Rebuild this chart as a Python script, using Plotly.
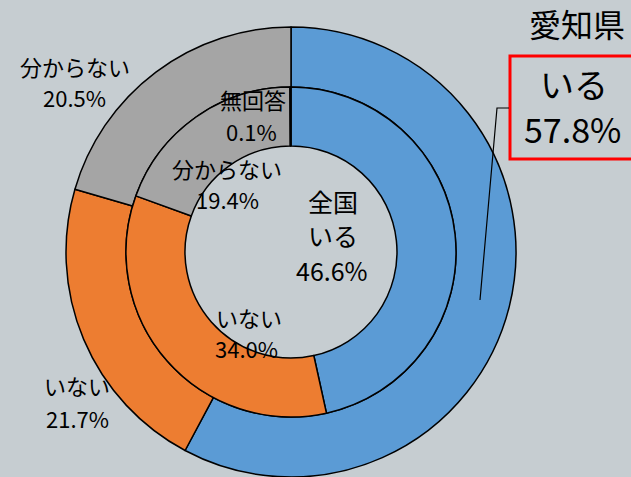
import plotly.graph_objects as go

# 愛知県 (outer ring) and 全国 (inner ring)
aichi_labels = ["いる", "いない", "分からない"]
aichi_values = [57.8, 21.7, 20.5]
zenkoku_labels = ["いる", "いない", "分からない", "無回答"]
zenkoku_values = [46.6, 34.0, 19.4, 0.1]

colors = {"いる": "#5B9BD5", "いない": "#ED7D31", "分からない": "#A5A5A5", "無回答": "#A5A5A5"}

W, H = 631, 477
BG = "#C6CDD1"
FONT = "Noto Sans CJK JP"

# ring geometry in pixels
CX, CY = 291, 252
R_OUT, R_MID, R_IN = 225, 165, 106


def px(x):
    return x / W


def py(y):
    return 1 - y / H


fig = go.Figure()

# outer ring: 愛知県
fig.add_trace(go.Pie(
    labels=aichi_labels, values=aichi_values,
    sort=False, direction="clockwise", rotation=0,
    hole=R_MID / R_OUT, textinfo="none", hoverinfo="label+percent",
    marker=dict(colors=[colors[l] for l in aichi_labels],
                line=dict(color="black", width=1.5)),
    domain=dict(x=[px(CX - R_OUT), px(CX + R_OUT)],
                y=[max(0, py(CY + R_OUT)), py(CY - R_OUT)]),
    showlegend=False,
))

# inner ring: 全国
fig.add_trace(go.Pie(
    labels=zenkoku_labels, values=zenkoku_values,
    sort=False, direction="clockwise", rotation=0,
    hole=R_IN / R_MID, textinfo="none", hoverinfo="label+percent",
    marker=dict(colors=[colors[l] for l in zenkoku_labels],
                line=dict(color="black", width=1.5)),
    domain=dict(x=[px(CX - R_MID), px(CX + R_MID)],
                y=[py(CY + R_MID), py(CY - R_MID)]),
    showlegend=False,
))


def label(text, x, y, size):
    fig.add_annotation(
        text=text, x=px(x), y=py(y), xref="paper", yref="paper",
        xanchor="center", yanchor="middle", showarrow=False,
        font=dict(family=FONT, size=size, color="black"),
    )


def pct(v):
    return f"{v:.1f}%"


S = 22
# two-line labels: name, then share
label(aichi_labels[2], 75, 66, S)
label(pct(aichi_values[2]), 74, 97, S)
label(aichi_labels[1], 77, 385, S)
label(pct(aichi_values[1]), 77, 418, S)
label(zenkoku_labels[3], 253, 99, S)
label(pct(zenkoku_values[3]), 252, 131, S)
label(zenkoku_labels[2], 227, 168, S)
label(pct(zenkoku_values[2]), 227, 199, S)
label(zenkoku_labels[1], 249, 317, S)
label(pct(zenkoku_values[1]), 247, 348, S)

# centre of the rings
label("全国", 333, 201, 25)
label(zenkoku_labels[0], 333, 235, 25)
label(pct(zenkoku_values[0]), 332, 270, 25)

# callout box for 愛知県 いる
label(aichi_labels[0], 574, 84, 34)
label(pct(aichi_values[0]), 572, 128, 34)
fig.add_annotation(
    text="愛知県", x=px(627), y=py(23), xref="paper", yref="paper",
    xanchor="right", yanchor="middle", showarrow=False,
    font=dict(family=FONT, size=32, color="black"),
)

fig.add_shape(type="rect", xref="paper", yref="paper",
              x0=px(510), x1=px(645), y0=py(56), y1=py(159),
              line=dict(color="#FF0000", width=3))
fig.add_shape(type="path", xref="paper", yref="paper",
              path=f"M {px(509)} {py(108)} L {px(497)} {py(108)} L {px(480)} {py(300)}",
              line=dict(color="black", width=1.2))

fig.update_layout(
    width=W, height=H,
    margin=dict(l=0, r=0, t=0, b=0),
    paper_bgcolor=BG, plot_bgcolor=BG,
    font=dict(family=FONT),
)

fig.write_html("out.html")
